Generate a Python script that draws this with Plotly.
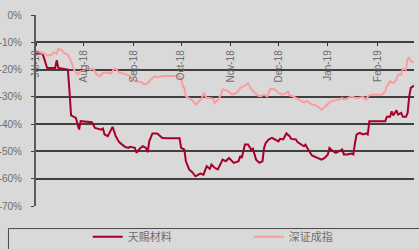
import plotly.graph_objects as go

# ---- data ----
tianci_dates = [
    "2018-07-02","2018-07-06","2018-07-07","2018-07-09","2018-07-14","2018-07-15","2018-07-16",
    "2018-07-21","2018-07-22","2018-07-23","2018-07-24","2018-07-27","2018-07-29","2018-07-30",
    "2018-08-06","2018-08-08","2018-08-12","2018-08-13","2018-08-14","2018-08-16","2018-08-19",
    "2018-08-21","2018-08-23","2018-08-25","2018-08-27","2018-08-29","2018-08-30","2018-09-02",
    "2018-09-03","2018-09-05","2018-09-07","2018-09-09","2018-09-10","2018-09-11","2018-09-13",
    "2018-09-16","2018-09-19","2018-09-21","2018-09-30","2018-10-01","2018-10-03","2018-10-04",
    "2018-10-06","2018-10-08","2018-10-10","2018-10-13","2018-10-15","2018-10-17","2018-10-19",
    "2018-10-20","2018-10-22","2018-10-24","2018-10-26","2018-10-27","2018-10-29","2018-10-31",
    "2018-11-03","2018-11-06","2018-11-07","2018-11-08","2018-11-10","2018-11-12","2018-11-14",
    "2018-11-15","2018-11-17","2018-11-19","2018-11-21","2018-11-22","2018-11-23","2018-11-25",
    "2018-11-27","2018-11-29","2018-12-01","2018-12-02","2018-12-04","2018-12-06","2018-12-08",
    "2018-12-09","2018-12-12","2018-12-13","2018-12-15","2018-12-17","2018-12-18","2018-12-19",
    "2018-12-22","2018-12-24","2018-12-26","2018-12-28","2018-12-30","2019-01-01","2019-01-02",
    "2019-01-04","2019-01-06","2019-01-08","2019-01-10","2019-01-11","2019-01-13","2019-01-16",
    "2019-01-17","2019-01-18","2019-01-19","2019-01-21","2019-01-23","2019-01-25","2019-01-26",
    "2019-01-27","2019-02-06","2019-02-07","2019-02-09","2019-02-10","2019-02-11","2019-02-13",
    "2019-02-14","2019-02-16","2019-02-17","2019-02-19","2019-02-20","2019-02-21","2019-02-22",
    "2019-02-24",
]
tianci_values = [
    -14.1,-14.1,-15.7,-19.4,-19.4,-16.6,-19.4,
    -19.7,-20.0,-28.0,-36.8,-37.7,-42.0,-38.9,
    -39.3,-41.4,-42.0,-41.6,-43.8,-44.4,-41.0,
    -44.4,-46.5,-47.5,-48.4,-48.7,-48.3,-48.7,
    -50.5,-49.0,-48.1,-48.7,-50.3,-46.3,-43.4,
    -43.4,-45.0,-45.2,-45.2,-48.7,-49.3,-53.6,
    -56.6,-57.6,-59.1,-58.1,-58.5,-55.4,-56.4,
    -54.8,-56.0,-56.6,-54.2,-53.0,-53.6,-52.4,
    -54.2,-53.6,-51.7,-52.4,-47.5,-47.5,-49.5,
    -49.0,-53.0,-54.2,-53.6,-48.7,-46.9,-45.6,
    -45.0,-45.6,-46.3,-45.4,-45.6,-43.4,-44.4,
    -45.4,-45.6,-46.6,-47.5,-48.1,-47.5,-48.7,
    -51.5,-52.0,-52.4,-53.0,-52.4,-51.1,-48.7,
    -49.8,-50.5,-49.8,-49.3,-51.1,-51.1,-50.8,
    -51.1,-46.9,-43.8,-43.2,-43.8,-43.4,-43.8,
    -38.9,-38.9,-37.3,-37.3,-35.3,-36.8,-34.9,
    -36.5,-35.9,-37.3,-37.3,-35.9,-29.8,-26.7,
    -25.9,
]

szci_dates = [
    "2018-07-02","2018-07-05","2018-07-07","2018-07-09","2018-07-12","2018-07-13","2018-07-15",
    "2018-07-16","2018-07-18","2018-07-20","2018-07-22","2018-07-24","2018-07-26","2018-07-28",
    "2018-07-30","2018-07-31","2018-08-02","2018-08-05","2018-08-07","2018-08-09","2018-08-11",
    "2018-08-13","2018-08-16","2018-08-18","2018-08-20","2018-08-21","2018-08-23","2018-08-26",
    "2018-08-30","2018-08-31","2018-09-03","2018-09-06","2018-09-08","2018-09-10","2018-09-12",
    "2018-09-14","2018-09-16","2018-09-20","2018-09-29","2018-10-01","2018-10-02","2018-10-03",
    "2018-10-04","2018-10-06","2018-10-08","2018-10-10","2018-10-12","2018-10-14","2018-10-15",
    "2018-10-17","2018-10-19","2018-10-21","2018-10-22","2018-10-24","2018-10-26","2018-10-27",
    "2018-10-30","2018-11-02","2018-11-05","2018-11-07","2018-11-10","2018-11-12","2018-11-14",
    "2018-11-16","2018-11-18","2018-11-20","2018-11-22","2018-11-24","2018-11-26","2018-11-29",
    "2018-12-01","2018-12-03","2018-12-05","2018-12-07","2018-12-08","2018-12-10","2018-12-13",
    "2018-12-15","2018-12-17","2018-12-19","2018-12-22","2018-12-25","2018-12-26","2018-12-28",
    "2018-12-30","2019-01-01","2019-01-03","2019-01-06","2019-01-08","2019-01-10","2019-01-11",
    "2019-01-14","2019-01-16","2019-01-18","2019-01-20","2019-01-23","2019-01-25","2019-01-26",
    "2019-01-28","2019-02-04","2019-02-06","2019-02-07","2019-02-09","2019-02-11","2019-02-13",
    "2019-02-14","2019-02-16","2019-02-17","2019-02-19","2019-02-20","2019-02-21","2019-02-22",
    "2019-02-24",
]
szci_values = [
    -13.3,-13.7,-14.1,-14.9,-14.5,-13.7,-14.1,
    -12.4,-12.9,-14.1,-14.5,-17.0,-20.2,-21.8,
    -20.6,-20.7,-19.7,-20.0,-19.7,-21.8,-22.4,
    -21.2,-21.2,-21.5,-19.7,-19.7,-21.0,-21.5,
    -22.4,-23.4,-24.3,-24.6,-25.5,-24.9,-23.7,
    -22.5,-22.7,-22.4,-22.4,-23.0,-26.1,-26.7,
    -29.8,-30.4,-31.2,-32.8,-31.6,-30.7,-28.5,
    -30.4,-30.4,-30.7,-32.2,-31.2,-29.2,-27.3,
    -27.7,-29.2,-28.5,-26.7,-25.9,-25.1,-27.3,
    -28.5,-29.5,-29.8,-29.2,-29.8,-27.1,-27.3,
    -28.5,-29.2,-28.8,-28.1,-29.5,-29.8,-30.7,
    -31.6,-32.0,-31.6,-32.8,-33.2,-33.7,-34.7,
    -33.7,-32.5,-31.6,-31.2,-31.0,-30.4,-31.0,
    -30.4,-29.8,-30.4,-30.4,-30.1,-31.0,-29.8,
    -29.2,-29.2,-27.9,-26.1,-24.3,-24.9,-23.7,
    -21.8,-21.8,-19.7,-20.0,-16.1,-15.7,-17.0,
    -17.2,
]

series_names = ["天赐材料", "深证成指"]
x_tick_dates = ["2018-07-02","2018-08-01","2018-09-01","2018-10-01","2018-11-01",
                "2018-12-01","2019-01-01","2019-02-01"]
x_tick_labels = ["Jul-18","Aug-18","Sep-18","Oct-18","Nov-18","Dec-18","Jan-19","Feb-19"]
y_tick_values = [0, -10, -20, -30, -40, -50, -60, -70]
y_tick_labels = ["0%", "-10%", "-20%", "-30%", "-40%", "-50%", "-60%", "-70%"]

# ---- figure ----
fig = go.Figure()
fig.add_trace(go.Scatter(x=tianci_dates, y=tianci_values, mode="lines", name=series_names[0],
                         line=dict(color="#a8002a", width=2)))
fig.add_trace(go.Scatter(x=szci_dates, y=szci_values, mode="lines", name=series_names[1],
                         line=dict(color="#ff9b9b", width=2)))

font_main = "Liberation Sans, Arial, sans-serif"
fig.update_layout(
    width=419, height=249,
    margin=dict(l=36, r=5, t=15, b=43, autoexpand=False),
    paper_bgcolor="#d9d9d9", plot_bgcolor="#d9d9d9",
    font=dict(family=font_main, size=10, color="#6e6e6e"),
    showlegend=True,
    legend=dict(orientation="h", x=0.137, y=-0.085, xanchor="left", yanchor="top",
                bgcolor="rgba(0,0,0,0)", entrywidth=116, entrywidthmode="pixels",
                font=dict(size=11, color="#6e6e6e", family="Noto Sans CJK SC, sans-serif"),
                itemwidth=30),
    xaxis=dict(type="date", range=["2018-07-02", "2019-02-24"], automargin=False,
               anchor="free", position=6/7, side="bottom",
               tickmode="array", tickvals=x_tick_dates, ticktext=x_tick_labels,
               tickangle=-90, ticks="outside", ticklen=3, tickcolor="#333333",
               showgrid=False, zeroline=False, showline=False,
               tickfont=dict(size=10, color="#6e6e6e")),
    yaxis=dict(range=[-70, 0], tickmode="array", tickvals=y_tick_values, ticktext=y_tick_labels,
               automargin=False, ticklabelstandoff=7,
               showgrid=True, gridcolor="#404040", gridwidth=1.6, zeroline=False,
               showline=True, linecolor="#5a5a5a", linewidth=2,
               ticks="outside", ticklen=3, tickcolor="#404040",
               tickfont=dict(size=10, color="#6e6e6e")),
    shapes=[dict(type="rect", xref="paper", yref="paper",
                 x0=-0.0728, x1=1.02, y0=-0.118, y1=-0.30,
                 line=dict(color="#4a4a4a", width=1), fillcolor="rgba(0,0,0,0)")],
)

fig.write_html("out.html", config={"displayModeBar": False},
               post_script="document.body.style.margin='0';document.body.style.background='#d9d9d9';")
